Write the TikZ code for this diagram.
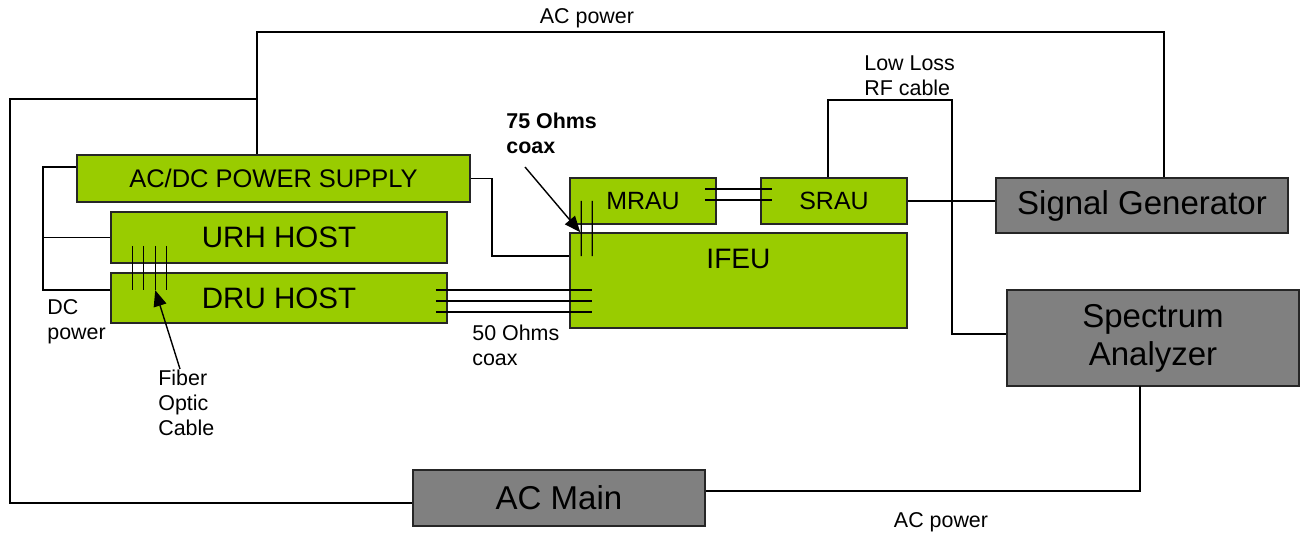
\documentclass[tikz,border=0pt]{standalone}
\usepackage{fontspec}
\setmainfont{Liberation Sans}
\usepackage{xcolor}
\usetikzlibrary{arrows.meta,calc}
\definecolor{boxgreen}{HTML}{99CC00}
\definecolor{boxgrey}{HTML}{808080}

\begin{document}
\begin{tikzpicture}[
    x=0.02cm, y=-0.02cm,
    wire/.style={line width=0.8pt, black},
    pointer/.style={wire, -{Triangle[length=0.32cm,width=0.26cm]}},
    gbox/.style={draw=black!85, fill=boxgreen, line width=0.9pt,
                 inner sep=0pt, align=center},
    greybox/.style={gbox, fill=boxgrey,
                    font=\fontsize{18.8}{21.6}\selectfont},
    lbl/.style={font=\fontsize{12.2}{14.2}\selectfont, align=left,
                inner sep=0pt},
    lblb/.style={lbl, font=\fontsize{12.2}{14.2}\selectfont\bfseries},
]
\useasboundingbox (0,0) rectangle (1305,536);

% ── green units ─────────────────────────────────────────────
\node[gbox, minimum width=7.86cm, minimum height=0.94cm,
      font=\fontsize{14.5}{17}\selectfont] (acdc) at (273.5,178.5) {AC/DC POWER SUPPLY};
\node[gbox, minimum width=6.72cm, minimum height=1.02cm,
      font=\fontsize{16.8}{19}\selectfont] (urhhost) at (279,237.5) {URH HOST};
\node[gbox, minimum width=6.72cm, minimum height=1.0cm,
      font=\fontsize{16.8}{19}\selectfont] (druhost) at (279,298) {DRU HOST};
\node[gbox, minimum width=2.92cm, minimum height=0.92cm,
      font=\fontsize{14.2}{17}\selectfont] (mrau) at (643,201) {MRAU};
\node[gbox, minimum width=2.92cm, minimum height=0.92cm,
      font=\fontsize{14.2}{17}\selectfont] (srau) at (834,201) {SRAU};
\node[gbox, minimum width=6.74cm, minimum height=1.9cm] (ifeu) at (738.5,280.5) {};
\node[font=\fontsize{16}{19}\selectfont, inner sep=0pt] (ifeutxt)
      at ($(ifeu.north)+(0,27)$) {IFEU};

% ── test equipment ──────────────────────────────────────────
\node[greybox, minimum width=5.84cm, minimum height=1.1cm] (siggen) at (1142,205.5) {Signal Generator};
\node[greybox, minimum width=5.84cm, minimum height=1.92cm] (specan) at (1153,338) {Spectrum\\Analyzer};
\node[greybox, minimum width=5.84cm, minimum height=1.12cm] (acmain) at (559,498) {AC Main};

% ── AC power ────────────────────────────────────────────────
\coordinate (acL) at (257,32);
\coordinate (acR) at (1164,32);
\coordinate (acJ) at (257,99);
\coordinate (acW) at (10,99);
\coordinate (saB) at (1140,386);
\draw[wire] (acL |- acdc.north) -- (acL) -- (acR) -- (acR |- siggen.north);
\draw[wire] (acJ) -- (acW) |- ([yshift=-0.1cm]acmain.west);
\draw[wire] (saB) |- ([yshift=0.14cm]acmain.east);

% ── DC power ────────────────────────────────────────────────
\coordinate (dcT) at (43,167);
\coordinate (dcB) at (43,290);
\draw[wire] (dcT -| acdc.west) -- (dcT) -- (dcB) -- (dcB -| druhost.west);
\draw[wire] (urhhost.west) -- (urhhost.west -| dcT);
\coordinate (psB) at (492,256);
\draw[wire] (acdc.east) -| (psB) -- (psB -| ifeu.west);

% ── RF ──────────────────────────────────────────────────────
\draw[wire] (srau.east) -- (srau.east -| siggen.west);
\coordinate (rfL) at (828,100);
\coordinate (rfR) at (952,100);
\draw[wire] (rfL |- srau.north) -- (rfL) -- (rfR) |- ([yshift=0.08cm]specan.west);

% ── cable bundles ───────────────────────────────────────────
\foreach \dy in {-12,-1}
    \draw[wire] ($(mrau.east)+(-12,\dy)$) -- ($(srau.west)+(12,\dy)$);
\foreach \dy in {-8,3,14}
    \draw[wire] ($(druhost.east)+(-12,\dy)$) -- ($(druhost.east -| ifeu.west)+(23,\dy)$);
\foreach \dx in {12,23}
    \draw[wire] ($(mrau.south west)+(\dx,-24)$) -- ($(ifeu.north west)+(\dx,24)$);
\foreach \dx in {22,33,45,56}
    \draw[wire] ($(urhhost.south west)+(\dx,-18)$) -- ($(druhost.north west)+(\dx,18)$);

% ── pointers ────────────────────────────────────────────────
\coordinate (coaxtail) at (525,167);
\draw[pointer] (coaxtail) -- ($(ifeu.north west)+(11,0)$);
\coordinate (fibtail) at (180,369);
\draw[pointer] (fibtail) -- ($(druhost.north west)+(45,18)$);

% ── labels ──────────────────────────────────────────────────
\node[lbl] (lacpwr) at (587,18) {AC power};
\node[lbl, anchor=west] (lrf) at (864,76) {Low Loss\\RF cable};
\node[lblb, anchor=west] (l75) at (506,133) {75 Ohms\\coax};
\node[lbl, anchor=west] (ldc) at (47,322) {DC\\power};
\node[lbl, anchor=west] (l50) at (472,345) {50 Ohms\\coax};
\node[lbl, anchor=west] (lfib) at (158,403) {Fiber\\Optic\\Cable};
\node[lbl] (lacpwr2) at (941,522) {AC power};

\end{tikzpicture}
\end{document}
